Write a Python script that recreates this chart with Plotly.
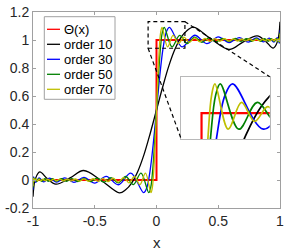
import plotly.graph_objects as go

# ---------------- data ----------------
step_x = [-1.0, 0.0, 0.0, 1.0]
step_y = [0.0, 0.0, 1.0, 1.0]

order10_x = [-1.0, -0.98, -0.945, -0.885, -0.815, -0.70, -0.59, -0.445, -0.30, -0.25, -0.20, -0.15,
             -0.10, -0.05, 0.0, 0.05, 0.10, 0.15, 0.20, 0.25, 0.30, 0.445, 0.59, 0.70, 0.815,
             0.885, 0.945, 0.98, 1.0]
order10_y = [-0.12, 0.01, 0.058, 0.01, -0.03, 0.015, 0.068, -0.005, -0.092, -0.07, -0.02, 0.065,
             0.185, 0.336, 0.5, 0.664, 0.815, 0.935, 1.02, 1.07, 1.092, 1.005, 0.932, 0.985, 1.03,
             0.99, 0.942, 0.99, 1.13]

order30_x = [-1.0, -0.9945, -0.9781, -0.9511, -0.9135, -0.8660, -0.8090, -0.7431, -0.6691, -0.5878,
             -0.5, -0.4067, -0.3090, -0.2079, -0.1045, -0.0785, -0.0524, -0.0262, 0.0, 0.0262,
             0.0524, 0.0785, 0.1045, 0.2079, 0.3090, 0.4067, 0.5, 0.5878, 0.6691, 0.7431, 0.8090,
             0.8660, 0.9135, 0.9511, 0.9781, 0.9945, 1.0]
order30_y = [-0.069, 0.022, -0.017, 0.015, -0.014, 0.014, -0.015, 0.015, -0.017, 0.019,
             -0.022, 0.026, -0.034, 0.049, -0.090, -0.054, 0.064, 0.259, 0.5, 0.741,
             0.936, 1.054, 1.090, 0.951, 1.034, 0.974, 1.022, 0.981, 1.017, 0.985, 1.015,
             0.986, 1.014, 0.985, 1.017, 0.978, 1.069]

order50_x = [-1.0, -0.9980, -0.9921, -0.9823, -0.9686, -0.9511, -0.9298, -0.9048, -0.8763, -0.8443,
             -0.8090, -0.7705, -0.7290, -0.6845, -0.6374, -0.5878, -0.5358, -0.4818, -0.4258,
             -0.3681, -0.3090, -0.2487, -0.1874, -0.1253, -0.0628, -0.0471, -0.0314, -0.0157,
             0.0, 0.0157, 0.0314, 0.0471, 0.0628, 0.1253, 0.1874, 0.2487, 0.3090, 0.3681,
             0.4258, 0.4818, 0.5358, 0.5878, 0.6374, 0.6845, 0.7290, 0.7705, 0.8090, 0.8443,
             0.8763, 0.9048, 0.9298, 0.9511, 0.9686, 0.9823, 0.9921, 0.9980, 1.0]
order50_y = [-0.054, 0.017, -0.012, 0.011, -0.010, 0.009, -0.009, 0.009, -0.009, 0.009,
             -0.009, 0.009, -0.009, 0.010, -0.011, 0.011, -0.012, 0.013, -0.015,
             0.017, -0.021, 0.025, -0.033, 0.049, -0.090, -0.054, 0.064, 0.259,
             0.5, 0.741, 0.936, 1.054, 1.090, 0.951, 1.033, 0.975, 1.021, 0.983,
             1.015, 0.987, 1.012, 0.989, 1.011, 0.990, 1.009, 0.991, 1.009, 0.991,
             1.009, 0.991, 1.009, 0.991, 1.010, 0.989, 1.012, 0.983, 1.054]

order70_x = [-1.0, -0.9990, -0.9960, -0.9909, -0.9839, -0.9749, -0.9639, -0.9511, -0.9362, -0.9195,
             -0.9009, -0.8805, -0.8585, -0.8345, -0.8090, -0.7818, -0.7530, -0.7228, -0.6911,
             -0.6580, -0.6235, -0.5878, -0.5509, -0.5129, -0.4739, -0.4339, -0.3931, -0.3514,
             -0.3090, -0.2660, -0.2225, -0.1786, -0.1342, -0.0896, -0.0449, -0.0337, -0.0224,
             -0.0112, 0.0, 0.0112, 0.0224, 0.0337, 0.0449, 0.0896, 0.1342, 0.1786, 0.2225,
             0.2660, 0.3090, 0.3514, 0.3931, 0.4339, 0.4739, 0.5129, 0.5509, 0.5878, 0.6235,
             0.6580, 0.6911, 0.7228, 0.7530, 0.7818, 0.8090, 0.8345, 0.8585, 0.8805, 0.9009,
             0.9195, 0.9362, 0.9511, 0.9639, 0.9749, 0.9839, 0.9909, 0.9960, 0.9990, 1.0]
order70_y = [-0.045, 0.014, -0.010, 0.009, -0.008, 0.007, -0.007, 0.006, -0.006, 0.006,
             -0.006, 0.006, -0.006, 0.006, -0.006, 0.006, -0.007, 0.007, -0.007,
             0.007, -0.008, 0.008, -0.009, 0.009, -0.010, 0.011, -0.012, 0.013,
             -0.015, 0.017, -0.020, 0.025, -0.033, 0.049, -0.090, -0.054, 0.064,
             0.259, 0.5, 0.741, 0.936, 1.054, 1.090, 0.951, 1.033, 0.975, 1.020,
             0.983, 1.015, 0.987, 1.012, 0.989, 1.010, 0.991, 1.009, 0.992, 1.008,
             0.993, 1.007, 0.993, 1.007, 0.994, 1.006, 0.994, 1.006, 0.994, 1.006,
             0.994, 1.006, 0.994, 1.007, 0.993, 1.008, 0.991, 1.010, 0.986, 1.045]

legend_labels = ["\u0398(x)", "order 10", "order 30", "order 50", "order 70"]
x_tickvals = [-1, -0.5, 0, 0.5, 1]
x_ticktext = ["-1", "-0.5", "0", "0.5", "1"]
y_tickvals = [-0.2, 0, 0.2, 0.4, 0.6, 0.8, 1, 1.2]
y_ticktext = ["-0.2", "0", "0.2", "0.4", "0.6", "0.8", "1", "1.2"]

# zoom window (main-axes coordinates) and inset axis ranges
zoom_x = [-0.068, 0.23]
zoom_y = [0.941, 1.131]
inset_xrange = [-0.068, 0.229]
inset_yrange = [0.92, 1.112]

# ---------------- layout geometry ----------------
W, H = 291, 251
ML, MR, MT, MB = 33, 11, 12, 43
PW = W - ML - MR
PH = H - MT - MB


def pfx(px):
    return (px - ML) / PW


def pfy(py):
    return (MT + PH - py) / PH


FONT = "Liberation Sans, Arial, Helvetica, sans-serif"
colors = ["#ff0000", "#000000", "#0000ff", "#008000", "#bfbf00"]
series = [
    (step_x, step_y),
    (order10_x, order10_y),
    (order30_x, order30_y),
    (order50_x, order50_y),
    (order70_x, order70_y),
]

fig = go.Figure()
for i, (xs, ys) in enumerate(series):
    shape = "linear" if i == 0 else "spline"
    fig.add_trace(go.Scatter(x=xs, y=ys, mode="lines", xaxis="x", yaxis="y",
                             line=dict(color=colors[i], width=2.0 if i == 0 else 1.3, shape=shape),
                             showlegend=False, hoverinfo="skip"))
for i, (xs, ys) in enumerate(series):
    shape = "linear" if i == 0 else "spline"
    fig.add_trace(go.Scatter(x=xs, y=ys, mode="lines", xaxis="x2", yaxis="y2",
                             line=dict(color=colors[i], width=2.2 if i == 0 else 1.7, shape=shape),
                             showlegend=False, hoverinfo="skip"))

inset_dom_x = [pfx(181.3), pfx(269.7)]
inset_dom_y = [pfy(139.3), pfy(76.7)]

axcol = "#a0a0a0"
lblcol = "#262626"
fig.update_layout(
    width=W, height=H, autosize=False,
    margin=dict(l=ML, r=MR, t=MT, b=MB, pad=0, autoexpand=False),
    paper_bgcolor="white", plot_bgcolor="#fffffe",
    font=dict(family=FONT, size=14, color=lblcol),
    xaxis=dict(domain=[0, 1], range=[-1, 1], tickvals=x_tickvals, ticktext=x_ticktext,
               ticks="inside", ticklen=3, tickcolor=axcol, showline=True, linecolor=axcol,
               linewidth=1, mirror="ticks", showgrid=False, zeroline=False, automargin=False,
               tickfont=dict(size=14, color=lblcol, family=FONT)),
    yaxis=dict(domain=[0, 1], range=[-0.2, 1.2], tickvals=y_tickvals, ticktext=y_ticktext,
               ticks="inside", ticklen=3, tickcolor=axcol, showline=True, linecolor=axcol,
               linewidth=1, mirror="ticks", showgrid=False, zeroline=False, automargin=False,
               tickfont=dict(size=14, color=lblcol, family=FONT)),
    xaxis2=dict(domain=inset_dom_x, anchor="y2", range=inset_xrange, showticklabels=False,
                ticks="", showline=True, mirror=True, linecolor="#b8b8b8", linewidth=1,
                showgrid=False, zeroline=False, automargin=False),
    yaxis2=dict(domain=inset_dom_y, anchor="x2", range=inset_yrange, showticklabels=False,
                ticks="", showline=True, mirror=True, linecolor="#b8b8b8", linewidth=1,
                showgrid=False, zeroline=False, automargin=False),
)

shapes = []
dash = dict(color="black", width=1.2, dash="4px,3px")
shapes.append(dict(type="rect", xref="x", yref="y", x0=zoom_x[0], x1=zoom_x[1],
                   y0=zoom_y[0], y1=zoom_y[1], line=dash, layer="above"))
ibl_x = -1 + 2 * inset_dom_x[0]
ibl_y = -0.2 + 1.4 * inset_dom_y[0]
itr_x = -1 + 2 * inset_dom_x[1]
itr_y = -0.2 + 1.4 * inset_dom_y[1]
shapes.append(dict(type="line", xref="x", yref="y", x0=zoom_x[0], y0=zoom_y[0],
                   x1=ibl_x, y1=ibl_y, line=dash, layer="above"))
shapes.append(dict(type="line", xref="x", yref="y", x0=zoom_x[1], y0=zoom_y[1],
                   x1=itr_x, y1=itr_y, line=dash, layer="above"))

shapes.append(dict(type="rect", xref="paper", yref="paper", x0=pfx(44.3), x1=pfx(115),
                   y0=pfy(99.3), y1=pfy(16.7), line=dict(color="#a0a0a0", width=1),
                   fillcolor="white", layer="above"))
row_y = [29.3, 44.3, 59.3, 74.3, 89.3]
annotations = []
for i, lab in enumerate(legend_labels):
    shapes.append(dict(type="line", xref="paper", yref="paper", x0=pfx(47), x1=pfx(60),
                       y0=pfy(row_y[i]), y1=pfy(row_y[i]),
                       line=dict(color=colors[i], width=1.3), layer="above"))
    annotations.append(dict(text=lab, xref="paper", yref="paper", x=pfx(61.5), y=pfy(row_y[i]),
                            xanchor="left", yanchor="middle", showarrow=False,
                            font=dict(size=13, color="black", family=FONT)))
annotations.append(dict(text="x", xref="paper", yref="paper", x=pfx(156.5), y=pfy(242.5),
                        xanchor="center", yanchor="middle", showarrow=False,
                        font=dict(size=15, color=lblcol, family=FONT)))
fig.update_layout(shapes=shapes, annotations=annotations)

fig.write_html("out.html", config={"displayModeBar": False},
               post_script="document.body.style.margin='0px';document.body.style.overflow='hidden';")
